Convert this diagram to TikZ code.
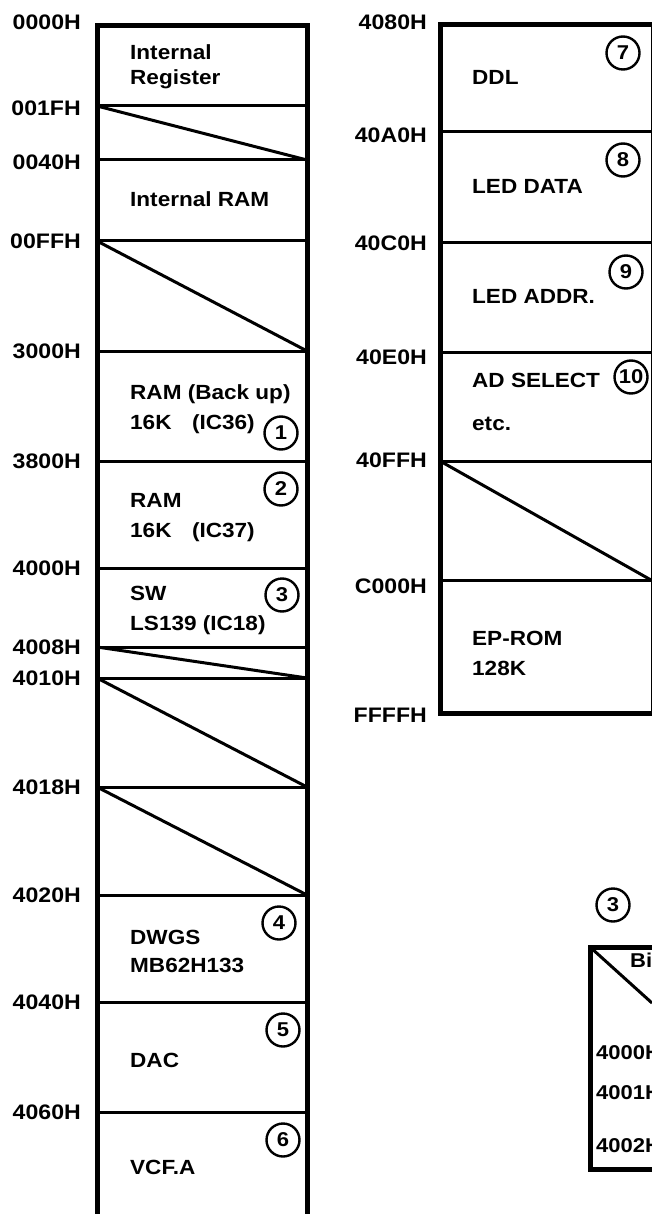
\documentclass[tikz,border=0pt]{standalone}
\usepackage{fontspec}
\setmainfont{Liberation Sans}[FakeStretch=1.1]
\begin{document}
\begin{tikzpicture}[x=1pt,y=-1pt,
    addr/.style={anchor=base east,inner xsep=0pt,font=\bfseries\fontsize{21}{21}\selectfont,yshift=-7.5pt},
    blk/.style={anchor=base west,inner xsep=0pt,font=\bfseries\fontsize{20.5}{20.5}\selectfont,yshift=-7pt},
    small/.style={anchor=base west,inner xsep=0pt,font=\bfseries\fontsize{20}{20}\selectfont,yshift=-7pt},
    num/.style={draw,circle,line width=2.4pt,minimum size=33pt,inner sep=0pt,
        font=\bfseries\fontsize{20}{20}\selectfont},
    frame/.style={line width=5pt},
    sep/.style={line width=3pt}]
    \useasboundingbox (0,0) rectangle (652,1214);
    \clip (0,0) rectangle (652,1214);
    % Columna izquierda
    \draw[frame] (97,1230) -- (97,26) -- (307,26) -- (307,1230);
    \foreach \y in {106,160,241,351,461,568,647,678,787,895,1002,1112}
        \draw[sep] (97,\y) -- (307,\y);
    \foreach \a/\b in {106/160,241/351,647/678,678/787,787/895}
        \draw[sep] (97,\a) -- (307,\b);
    \foreach \y/\t in {22/0000H,108/001FH,162/0040H,241/00FFH,351/3000H,461/3800H,
        568/4000H,647/4008H,678/4010H,787/4018H,895/4020H,1002/4040H,1112/4060H}
        \node[addr] (a\t) at (81,\y) {\t};
    \foreach \y/\t [count=\i] in {53/Internal,78/Register,200/Internal RAM,
        392/RAM (Back up),422/16K\quad(IC36),500/RAM,530/16K\quad(IC37),
        593/SW,623/LS139 (IC18),937/DWGS,965/MB62H133,1060/DAC,1167/VCF.A}
        \node[blk] (b\i) at (130,\y) {\t};
    \foreach \x/\y/\n in {281/433/1,281/489/2,282/595/3,279/923/4,283/1030/5,283/1140/6}
        \node[num] (n\n) at (\x,\y) {\n};
    % Columna derecha
    \draw[frame] (660,25) -- (440,25) -- (440,713) -- (660,713);
    \draw[line width=1pt] (651,25) -- (651,713);
    \foreach \y in {132,243,352,461,580}
        \draw[sep] (440,\y) -- (652,\y);
    \draw[sep] (440,461) -- (651,580);
    \foreach \y/\t in {22/4080H,135/40A0H,243/40C0H,357/40E0H,460/40FFH,586/C000H,715/FFFFH}
        \node[addr] (a\t) at (427,\y) {\t};
    \foreach \y/\t [count=\i from 14] in {78/DDL,187/LED DATA,297/LED ADDR.,
        380/AD SELECT,423/etc.,638/EP-ROM,668/128K}
        \node[blk] (b\i) at (472,\y) {\t};
    \foreach \x/\y/\n in {623/53/7,623/160/8,626/272/9,631/377/10}
        \node[num] (n\n) at (\x,\y) {\n};
    % Tabla (3)
    \node[num] (t3) at (613,905) {3};
    \draw[frame] (660,947) -- (590,947) -- (590,1169) -- (660,1169);
    \draw[sep] (590,947) -- (652,1003);
    \node[small] (bit) at (630,960) {Bit};
    \foreach \y/\t in {1052/4000H,1092/4001H,1145/4002H}
        \node[small] (r\t) at (596,\y) {\t};
\end{tikzpicture}
\end{document}
